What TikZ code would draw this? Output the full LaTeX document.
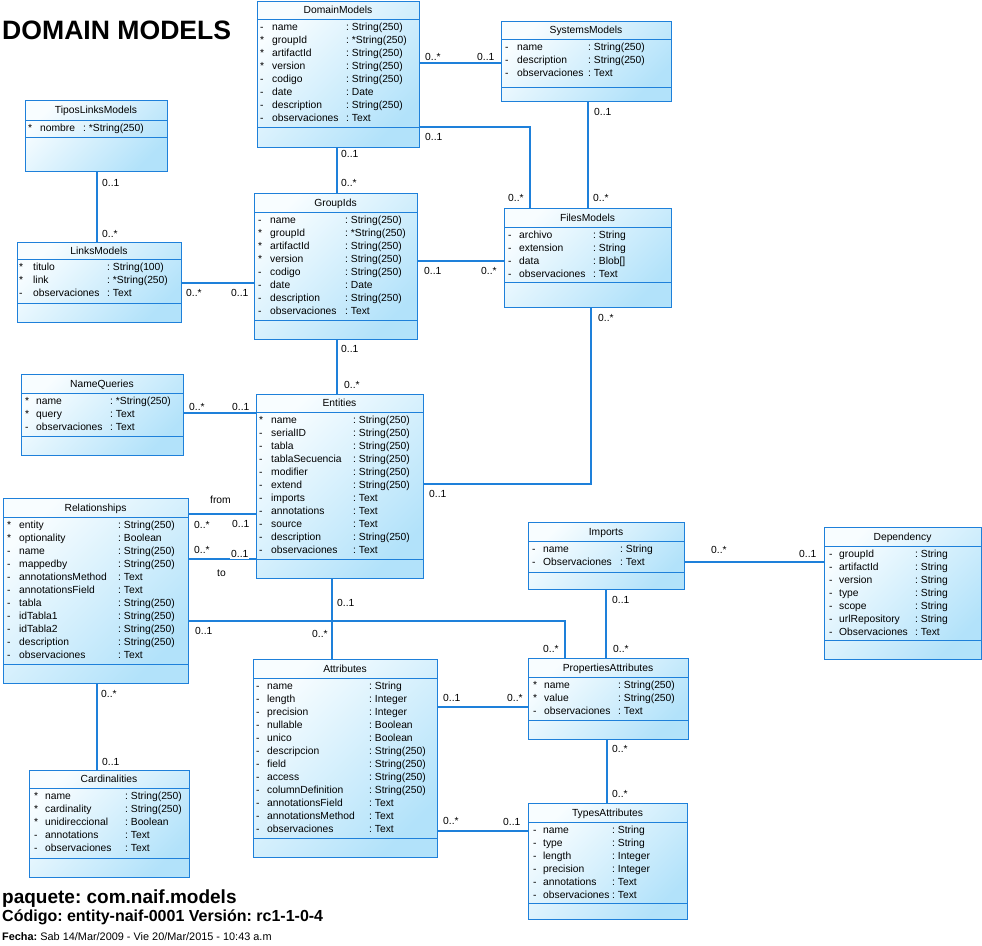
\documentclass[tikz,border=0pt]{standalone}
\usepackage{fontspec}
\setmainfont{Liberation Sans}
\usepackage{array}
\usetikzlibrary{calc}
\frenchspacing
\definecolor{umlblue}{RGB}{30,128,218}
\definecolor{umlfill}{RGB}{178,226,250}
\definecolor{umllight}{RGB}{248,253,255}
\tikzset{
  classbox/.style={draw=umlblue, line width=1pt, inner sep=0pt, outer sep=0pt,
    top color=umllight, bottom color=umlfill, shading angle=45},
  classline/.style={draw=umlblue, line width=1pt},
  conn/.style={draw=umlblue, line width=1.1pt},
  clstitle/.style={anchor=base, inner sep=0pt, font=\fontsize{10.3}{13}\selectfont},
  clsattrs/.style={anchor=base west, inner sep=0pt, font=\fontsize{10.3}{13}\selectfont},
  mlabel/.style={anchor=west, inner sep=0pt, font=\fontsize{10.3}{13}\selectfont},
}
% name, left, top, right, bottom, header sep, attr sep, title
\newcommand\umlbox[8]{%
  \node[classbox, anchor=north west, minimum width={#4-#2}, minimum height={#5-#3}] (#1) at (#2,#3) {};
  \draw[classline] (#2,#6) -- (#4,#6);
  \draw[classline] (#2,#7) -- (#4,#7);
  \node[clstitle] (#1-t) at ({(#2+#4)/2},{(#3+#6)/2+3.5}) {#8};
}
% name, x, baseline y, w1, w2, body
\newcommand\umlattrs[6]{%
  \node[clsattrs] (#1-a) at (#2,#3) {\begin{tabular}[t]{@{}p{#4pt}@{}p{#5pt}@{}l@{}}#6\end{tabular}};
}
\newcommand\ml[3]{\node[mlabel] (#1) at (#2) {#3};}

\begin{document}
\begin{tikzpicture}[x=1pt,y=-1pt]
\useasboundingbox (0,0) rectangle (982,945);

% ---------------- classes ----------------
\umlbox{dm}{257}{1}{419}{147}{19}{127}{DomainModels}
\umlattrs{dm}{260}{30}{12}{74}{- & name & : String(250)\\
{*} & groupId & : *String(250)\\
{*} & artifactId & : String(250)\\
{*} & version & : String(250)\\
- & codigo & : String(250)\\
- & date & : Date\\
- & description & : String(250)\\
- & observaciones & : Text}

\umlbox{sm}{501}{21}{671}{101}{39}{87}{SystemsModels}
\umlattrs{sm}{505}{50}{12}{71}{- & name & : String(250)\\
- & description & : String(250)\\
- & observaciones & : Text}

\umlbox{tl}{25}{100}{167}{171}{120}{137}{TiposLinksModels}
\umlattrs{tl}{28}{131}{12}{43}{{*} & nombre & : *String(250)}

\umlbox{lm}{17}{242}{181}{322}{259}{303}{LinksModels}
\umlattrs{lm}{19}{270}{14}{74}{{*} & titulo & : String(100)\\
{*} & link & : *String(250)\\
- & observaciones & : Text}

\umlbox{gi}{254}{193}{417}{339}{212}{320}{GroupIds}
\umlattrs{gi}{258}{223}{12}{75}{- & name & : String(250)\\
{*} & groupId & : *String(250)\\
{*} & artifactId & : String(250)\\
{*} & version & : String(250)\\
- & codigo & : String(250)\\
- & date & : Date\\
- & description & : String(250)\\
- & observaciones & : Text}

\umlbox{fm}{504}{208}{671}{307}{227}{282}{FilesModels}
\umlattrs{fm}{508}{238}{11}{74}{- & archivo & : String\\
- & extension & : String\\
- & data & : Blob[]\\
- & observaciones & : Text}

\umlbox{en}{256}{394}{423}{578}{412}{559}{Entities}
\umlattrs{en}{259}{423}{12}{82}{{*} & name & : String(250)\\
- & serialID & : String(250)\\
- & tabla & : String(250)\\
- & tablaSecuencia & : String(250)\\
- & modifier & : String(250)\\
- & extend & : String(250)\\
- & imports & : Text\\
- & annotations & : Text\\
- & source & : Text\\
- & description & : String(250)\\
- & observaciones & : Text}

\umlbox{nq}{21}{374}{183}{455}{393}{436}{NameQueries}
\umlattrs{nq}{25}{404}{11}{74}{{*} & name & : *String(250)\\
{*} & query & : Text\\
- & observaciones & : Text}

\umlbox{rel}{3}{498}{188}{683}{517}{664}{Relationships}
\umlattrs{rel}{7}{528}{12}{99}{{*} & entity & : String(250)\\
{*} & optionality & : Boolean\\
- & name & : String(250)\\
- & mappedby & : String(250)\\
- & annotationsMethod & : Text\\
- & annotationsField & : Text\\
- & tabla & : String(250)\\
- & idTabla1 & : String(250)\\
- & idTabla2 & : String(250)\\
- & description & : String(250)\\
- & observaciones & : Text}

\umlbox{at}{253}{659}{437}{857}{678}{838}{Attributes}
\umlattrs{at}{256}{689}{11}{102}{- & name & : String\\
- & length & : Integer\\
- & precision & : Integer\\
- & nullable & : Boolean\\
- & unico & : Boolean\\
- & descripcion & : String(250)\\
- & field & : String(250)\\
- & access & : String(250)\\
- & columnDefinition & : String(250)\\
- & annotationsField & : Text\\
- & annotationsMethod & : Text\\
- & observaciones & : Text}

\umlbox{pa}{528}{658}{688}{739}{677}{720}{PropertiesAttributes}
\umlattrs{pa}{533}{688}{11}{74}{{*} & name & : String(250)\\
{*} & value & : String(250)\\
- & observaciones & : Text}

\umlbox{im}{528}{522}{684}{589}{541}{572}{Imports}
\umlattrs{im}{532}{552}{11}{77}{- & name & : String\\
- & Observaciones & : Text}

\umlbox{dep}{824}{527}{981}{659}{546}{640}{Dependency}
\umlattrs{dep}{829}{557}{10}{76}{- & groupId & : String\\
- & artifactId & : String\\
- & version & : String\\
- & type & : String\\
- & scope & : String\\
- & urlRepository & : String\\
- & Observaciones & : Text}

\umlbox{card}{29}{770}{189}{877}{788}{858}{Cardinalities}
\umlattrs{card}{34}{799}{11}{80}{{*} & name & : String(250)\\
{*} & cardinality & : String(250)\\
{*} & unidireccional & : Boolean\\
- & annotations & : Text\\
- & observaciones & : Text}

\umlbox{ta}{528}{803}{687}{919}{822}{903}{TypesAttributes}
\umlattrs{ta}{533}{833}{10}{69}{- & name & : String\\
- & type & : String\\
- & length & : Integer\\
- & precision & : Integer\\
- & annotations & : Text\\
- & observaciones & : Text}

% ---------------- connectors ----------------
\draw[conn] ([yshift=-2pt]sm.west -| dm.east) -- ([yshift=-2pt]sm.west);
\draw[conn] ([yshift=-126pt]dm.north east) -| ([xshift=26pt]fm.north west);
\draw[conn] ([xshift=87pt]sm.south west) -- ([xshift=87pt]sm.south west |- fm.north);
\draw[conn] ([xshift=80pt]dm.south west) -- ([xshift=80pt]dm.south west |- gi.north);
\draw[conn] ([xshift=72pt]tl.south west) -- ([xshift=72pt]tl.south west |- lm.north);
\draw[conn] ([yshift=-1pt]lm.east) -- ([yshift=-1pt]lm.east -| gi.west);
\draw[conn] ([yshift=-3.5pt]fm.west -| gi.east) -- ([yshift=-3.5pt]fm.west);
\draw[conn] ([xshift=83pt]gi.south west) -- ([xshift=83pt]gi.south west |- en.north);
\draw[conn] ([xshift=87pt]fm.south west) |- ([yshift=-90pt]en.north east);
\draw[conn] ([yshift=-39pt]nq.north east) -- ([yshift=-39pt]nq.north east -| en.west);
\draw[conn] ([yshift=-16pt]rel.north east) -- ([yshift=-16pt]rel.north east -| en.west);
\draw[conn] ([yshift=-61pt]rel.north east) -- ([yshift=-61pt]rel.north east -| en.west);
\draw[conn] ([yshift=-123pt]rel.north east) -| ([xshift=37pt]pa.north west);
\draw[conn] ([xshift=76pt]en.south west) -- ([xshift=76pt]en.south west |- at.north);
\draw[conn] ([yshift=-48pt]at.north east) -- ([yshift=-48pt]at.north east -| pa.west);
\draw[conn] ([yshift=-172pt]at.north east) -- ([yshift=-172pt]at.north east -| ta.west);
\draw[conn] ([xshift=79pt]pa.south west) -- ([xshift=79pt]pa.south west |- ta.north);
\draw[conn] ([yshift=-40pt]im.north east) -- ([yshift=-40pt]im.north east -| dep.west);
\draw[conn] ([xshift=78pt]im.south west) -- ([xshift=78pt]im.south west |- pa.north);
\draw[conn] ([xshift=94pt]rel.south west) -- ([xshift=94pt]rel.south west |- card.north);

% ---------------- multiplicities ----------------
\ml{m1a}{425,57}{0..*} \ml{m1b}{477,57}{0..1}
\ml{m2a}{425,137}{0..1} \ml{m2b}{508,198}{0..*}
\ml{m3a}{594,112}{0..1} \ml{m3b}{593,198}{0..*}
\ml{m4a}{341,154}{0..1} \ml{m4b}{341,183}{0..*}
\ml{m5a}{102,183}{0..1} \ml{m5b}{102,234}{0..*}
\ml{m6a}{186,293}{0..*} \ml{m6b}{231,293}{0..1}
\ml{m7a}{424,271}{0..1} \ml{m7b}{481,271}{0..*}
\ml{m8a}{341,349}{0..1} \ml{m8b}{344,385}{0..*}
\ml{m9a}{598,318}{0..*} \ml{m9b}{429,494}{0..1}
\ml{m10a}{189,407}{0..*} \ml{m10b}{232,407}{0..1}
\ml{m11}{210,500}{from} \ml{m11a}{194,525}{0..*} \ml{m11b}{232,524}{0..1}
\ml{m12a}{194,550}{0..*} \ml{m12}{217,573}{to}
\node[mlabel, fill=white, inner sep=1pt] (m12b) at (230,554) {0..1};
\ml{m13a}{195,631}{0..1} \ml{m13b}{543,649}{0..*}
\ml{m14a}{337,603}{0..1} \ml{m14b}{312,634}{0..*}
\ml{m15a}{443,698}{0..1} \ml{m15b}{507,698}{0..*}
\ml{m16a}{443,821}{0..*} \ml{m16b}{503,822}{0..1}
\ml{m17a}{612,749}{0..*} \ml{m17b}{612,794}{0..*}
\ml{m18a}{711,550}{0..*} \ml{m18b}{799,554}{0..1}
\ml{m19a}{612,600}{0..1} \ml{m19b}{613,649}{0..*}
\ml{m20a}{101,694}{0..*} \ml{m20b}{102,762}{0..1}

% ---------------- texts ----------------
\node[anchor=base west, inner sep=0pt, font=\fontsize{26.6}{30}\selectfont\bfseries] (title) at (2,39) {DOMAIN MODELS};
\node[anchor=base west, inner sep=0pt, font=\fontsize{19}{22}\selectfont\bfseries] (pkg) at (2,903) {paquete: com.naif.models};
\node[anchor=base west, inner sep=0pt, font=\fontsize{16}{19}\selectfont\bfseries] (cod) at (2,921) {Código: entity-naif-0001 Versión: rc1-1-0-4};
\node[anchor=base west, inner sep=0pt, font=\fontsize{10.9}{13}\selectfont] (fecha) at (2,940) {\textbf{Fecha:} Sab 14/Mar/2009 - Vie 20/Mar/2015 - 10:43 a.m};
\end{tikzpicture}
\end{document}
